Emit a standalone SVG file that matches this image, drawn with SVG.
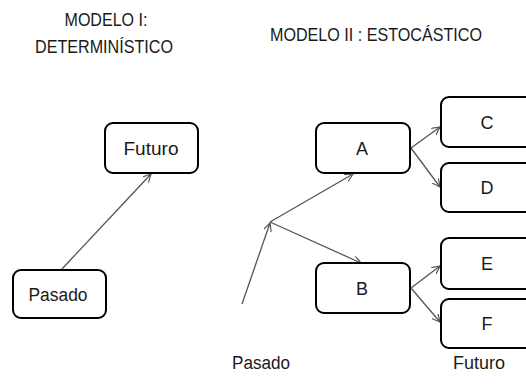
<svg xmlns="http://www.w3.org/2000/svg" width="526" height="387" viewBox="0 0 526 387">
<defs>
<marker id="arr" markerWidth="10" markerHeight="10" refX="8" refY="4" orient="auto" markerUnits="userSpaceOnUse">
<path d="M0,0 L8,4 L0,8" fill="none" stroke="#555" stroke-width="1.2"/>
</marker>
<style>
text{font-family:"Liberation Sans",Arial,sans-serif;fill:#1a1a1a;font-size:18px}
.h{font-size:19px}
.t{text-anchor:middle}
.box{fill:#fff;stroke:#000;stroke-width:2}
.c{stroke:#555;stroke-width:1.3;fill:none;marker-end:url(#arr)}
</style>
</defs>
<g id="titles">
<text x="106" y="26" class="t h" textLength="83" lengthAdjust="spacingAndGlyphs">MODELO I:</text>
<text x="104" y="53" class="t h" textLength="138" lengthAdjust="spacingAndGlyphs">DETERMINÍSTICO</text>
<text x="270" y="41" class="h" textLength="212" lengthAdjust="spacingAndGlyphs">MODELO II : ESTOCÁSTICO</text>
<text x="261" y="369" class="t" textLength="58" lengthAdjust="spacingAndGlyphs">Pasado</text>
<text x="479" y="369" class="t" textLength="52" lengthAdjust="spacingAndGlyphs">Futuro</text>
</g>
<g id="connectors">
<line class="c" x1="61" y1="270" x2="151" y2="174"/>
<line class="c" x1="242" y1="304" x2="270" y2="223"/>
<line class="c" x1="270" y1="222" x2="353" y2="174"/>
<line class="c" x1="270" y1="222" x2="361" y2="263"/>
<line class="c" x1="411" y1="148" x2="440" y2="127"/>
<line class="c" x1="411" y1="148" x2="440" y2="187"/>
<line class="c" x1="411" y1="288" x2="440" y2="266"/>
<line class="c" x1="411" y1="288" x2="440" y2="322"/>
</g>
<g id="futuro1"><rect class="box" x="105" y="123" width="93" height="50" rx="8"/><text x="151" y="155" class="t" textLength="55" lengthAdjust="spacingAndGlyphs">Futuro</text></g>
<g id="pasado1"><rect class="box" x="13" y="270" width="93" height="48" rx="8"/><text x="58" y="301" class="t" textLength="59" lengthAdjust="spacingAndGlyphs">Pasado</text></g>
<g id="A"><rect class="box" x="316" y="123" width="94" height="50" rx="8"/><text x="362" y="155" class="t">A</text></g>
<g id="B"><rect class="box" x="316" y="263" width="94" height="50" rx="8"/><text x="362" y="295" class="t">B</text></g>
<g id="C"><rect class="box" x="441" y="97" width="100" height="50" rx="8"/><text x="487" y="129" class="t">C</text></g>
<g id="D"><rect class="box" x="441" y="163" width="100" height="49" rx="8"/><text x="487" y="194" class="t">D</text></g>
<g id="E"><rect class="box" x="441" y="238" width="100" height="51" rx="8"/><text x="487" y="270" class="t">E</text></g>
<g id="F"><rect class="box" x="441" y="299" width="100" height="49" rx="8"/><text x="487" y="330" class="t">F</text></g>
</svg>
